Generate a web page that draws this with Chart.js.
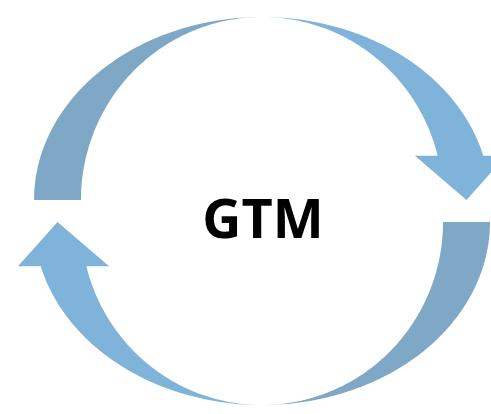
<!DOCTYPE html>
<html>
<head>
<meta charset="utf-8">
<title>GTM</title>
<script src="https://cdn.jsdelivr.net/npm/chart.js@4.4.1/dist/chart.umd.min.js"></script>
<style>
  html, body { margin: 0; padding: 0; background: #fff; }
  #wrap { width: 491px; height: 414px; position: relative; }
</style>
</head>
<body>
<div id="wrap"><canvas id="cycleChart"></canvas></div>
<script>
const centerLabel = 'GTM';
const segmentNames = ['Top back', 'Top arrow', 'Bottom back', 'Bottom arrow'];
const segmentSpans = [90, 90, 90, 90];   // degrees of the cycle
const segmentKinds = ['back', 'arrow', 'back', 'arrow'];
const segmentColors = ['#7fa8c6', '#7fb3d9', '#7fa8c6', '#7fb3d9'];

// each arc is drawn as a band that narrows to nothing at top / bottom,
// the arrow pieces get a head over their last few degrees
const curvedArrows = {
    id: 'curvedArrows',
    beforeDatasetsDraw(chart, args, opts) {
        const ctx = chart.ctx;
        const meta = chart.getDatasetMeta(0);
        meta.data.forEach((arc, i) => {
            const {x, y, startAngle, endAngle, outerRadius, innerRadius} =
                arc.getProps(['x', 'y', 'startAngle', 'endAngle', 'outerRadius', 'innerRadius']);
            const mid = (startAngle + endAngle) / 2;
            const cy = y + (Math.sin(mid) < 0 ? -opts.halfShift : opts.halfShift);
            const ry = opts.heightRadius;
            const head = segmentKinds[i] === 'arrow' ? opts.headSpan * Math.PI / 180 : 0;
            const shaftEnd = endAngle - head;
            const pt = (r, a) => [x + r * Math.cos(a), cy + ry * Math.sin(a)];
            const steps = 72;

            ctx.save();
            ctx.fillStyle = arc.options.backgroundColor;
            ctx.beginPath();
            for (let k = 0; k <= steps; k++) {
                const a = startAngle + (shaftEnd - startAngle) * k / steps;
                const [px, py] = pt(outerRadius, a);
                if (k === 0) ctx.moveTo(px, py); else ctx.lineTo(px, py);
            }
            if (head) {
                const [ox, oy] = pt(outerRadius, shaftEnd);
                const [ix, iy] = pt(innerRadius, shaftEnd);
                const w = (ox - ix) / 2;
                const [tx, ty] = pt((outerRadius + innerRadius) / 2, endAngle);
                ctx.lineTo(ox + w, oy);
                ctx.lineTo(tx, ty);
                ctx.lineTo(ix - w, iy);
            }
            for (let k = steps; k >= 0; k--) {
                const a = startAngle + (shaftEnd - startAngle) * k / steps;
                const [px, py] = pt(innerRadius, a);
                ctx.lineTo(px, py);
            }
            ctx.closePath();
            ctx.fill();
            ctx.restore();
        });
        return false; // skip the default round arcs
    },
    afterDraw(chart, args, opts) {
        const arc = chart.getDatasetMeta(0).data[0];
        const ctx = chart.ctx;
        ctx.save();
        ctx.font = opts.font;
        ctx.fillStyle = '#000';
        ctx.textAlign = 'center';
        ctx.textBaseline = 'alphabetic';
        ctx.fillText(centerLabel, arc.x + 1, arc.y + 27);
        ctx.restore();
    }
};

const ctx = document.getElementById('cycleChart').getContext('2d');
new Chart(ctx, {
    type: 'doughnut',
    data: {
        labels: segmentNames,
        datasets: [{
            data: segmentSpans,
            backgroundColor: segmentColors,
            borderWidth: 0
        }]
    },
    options: {
        responsive: true,
        maintainAspectRatio: false,
        animation: false,
        rotation: -90,
        radius: 228,
        cutout: '79.4%',
        layout: { padding: { left: 33, top: 8, right: 0, bottom: 0 } },
        events: [],
        plugins: {
            legend: { display: false },
            tooltip: { enabled: false },
            curvedArrows: {
                halfShift: 11,
                heightRadius: 183,
                headSpan: 14,
                font: 'bold 54px "Open Sans"'
            }
        }
    },
    plugins: [curvedArrows]
});
</script>
</body>
</html>
